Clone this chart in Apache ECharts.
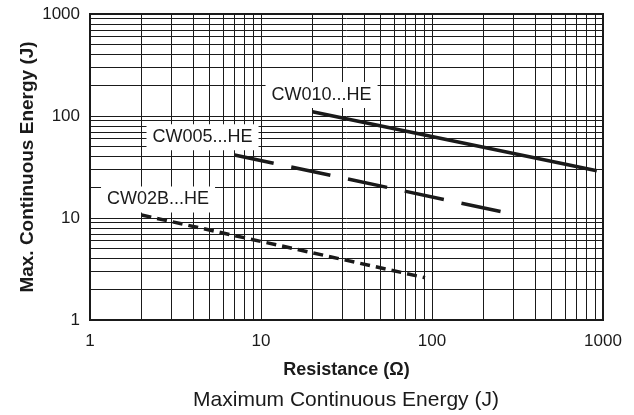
<!DOCTYPE html>
<html>
<head>
<meta charset="utf-8">
<title>Maximum Continuous Energy (J)</title>
<script src="https://cdn.jsdelivr.net/npm/echarts@6/dist/echarts.min.js"></script>
<style>
  html, body { margin: 0; padding: 0; background: #fff; }
  #chart { width: 634px; height: 415px; }
</style>
</head>
<body>
<div id="chart"></div>
<script>
// resistance (ohm) vs max continuous energy (J), both log scale
const cw010 = [[20, 110], [920, 29]]
const cw005 = [[7, 41.5], [270, 11.3]]
const cw02b = [[2, 10.7], [91, 2.6]]

// where the series names sit on the chart (data coords)
const labelCoords = {
  'CW010...HE': [22.6, 161],
  'CW005...HE': [4.55, 62],
  'CW02B...HE': [2.5, 15.2]
}

// log paper minor lines
const minorTicks = [2, 3, 4, 5, 6, 7, 8, 9, 20, 30, 40, 50, 60, 70, 80, 90, 200, 300, 400, 500, 600, 700, 800, 900]

const fontFamily = 'Liberation Sans, Arial, Helvetica, sans-serif'
const ink = '#1a1a1a'

const chart = echarts.init(document.getElementById('chart'))

function curve(name, data, type, width) {
  return {
    name: name,
    type: 'line',
    data: data,
    symbol: 'none',
    silent: true,
    z: 5,
    lineStyle: { color: ink, width: width, type: type, cap: 'butt' },
    markPoint: {
      symbol: 'rect',
      symbolSize: 0,
      silent: true,
      z: 6,
      label: {
        show: true,
        position: 'inside',
        formatter: name,
        color: ink,
        fontFamily: fontFamily,
        fontSize: 18,
        backgroundColor: '#fff',
        padding: [4, 6, 4, 6]
      },
      data: [{ coord: labelCoords[name] }]
    }
  }
}

const logAxis = {
  type: 'log',
  logBase: 10,
  min: 1,
  max: 1000,
  axisLine: { show: true, lineStyle: { color: ink, width: 2 } },
  axisTick: { show: false },
  splitLine: { show: true, lineStyle: { color: ink, width: 1 } },
  axisLabel: {
    color: ink,
    fontFamily: fontFamily,
    fontSize: 17,
    formatter: v => String(Math.round(v))
  },
  nameLocation: 'middle',
  nameMoveOverlap: false,
  nameTextStyle: { color: ink, fontFamily: fontFamily, fontWeight: 'bold' }
}

chart.setOption({
  animation: false,
  title: {
    text: 'Maximum Continuous Energy (J)',
    left: 346,
    textAlign: 'center',
    top: 390,
    padding: 0,
    textStyle: { color: ink, fontFamily: fontFamily, fontSize: 21, fontWeight: 'normal' }
  },
  grid: {
    left: 90,
    right: 31,
    top: 14,
    bottom: 95,
    show: true,
    borderColor: ink,
    borderWidth: 2,
    backgroundColor: '#fff'
  },
  xAxis: Object.assign({}, logAxis, {
    name: 'Resistance (Ω)',
    nameGap: 41,
    nameTextStyle: Object.assign({}, logAxis.nameTextStyle, { fontSize: 18 }),
    axisLabel: Object.assign({}, logAxis.axisLabel, { margin: 13 })
  }),
  yAxis: Object.assign({}, logAxis, {
    name: 'Max. Continuous Energy (J)',
    nameGap: 53,
    nameTextStyle: Object.assign({}, logAxis.nameTextStyle, { fontSize: 19 }),
    axisLabel: Object.assign({}, logAxis.axisLabel, { margin: 10 })
  }),
  series: [
    {
      name: 'grid',
      type: 'line',
      data: [],
      silent: true,
      markLine: {
        silent: true,
        symbol: 'none',
        animation: false,
        label: { show: false },
        lineStyle: { color: ink, width: 1, type: 'solid' },
        data: minorTicks.map(v => ({ xAxis: v })).concat(minorTicks.map(v => ({ yAxis: v })))
      }
    },
    curve('CW010...HE', cw010, 'solid', 3.5),
    curve('CW005...HE', cw005, [40, 18], 3.5),
    curve('CW02B...HE', cw02b, [10, 6], 3.5)
  ]
})
</script>
</body>
</html>
